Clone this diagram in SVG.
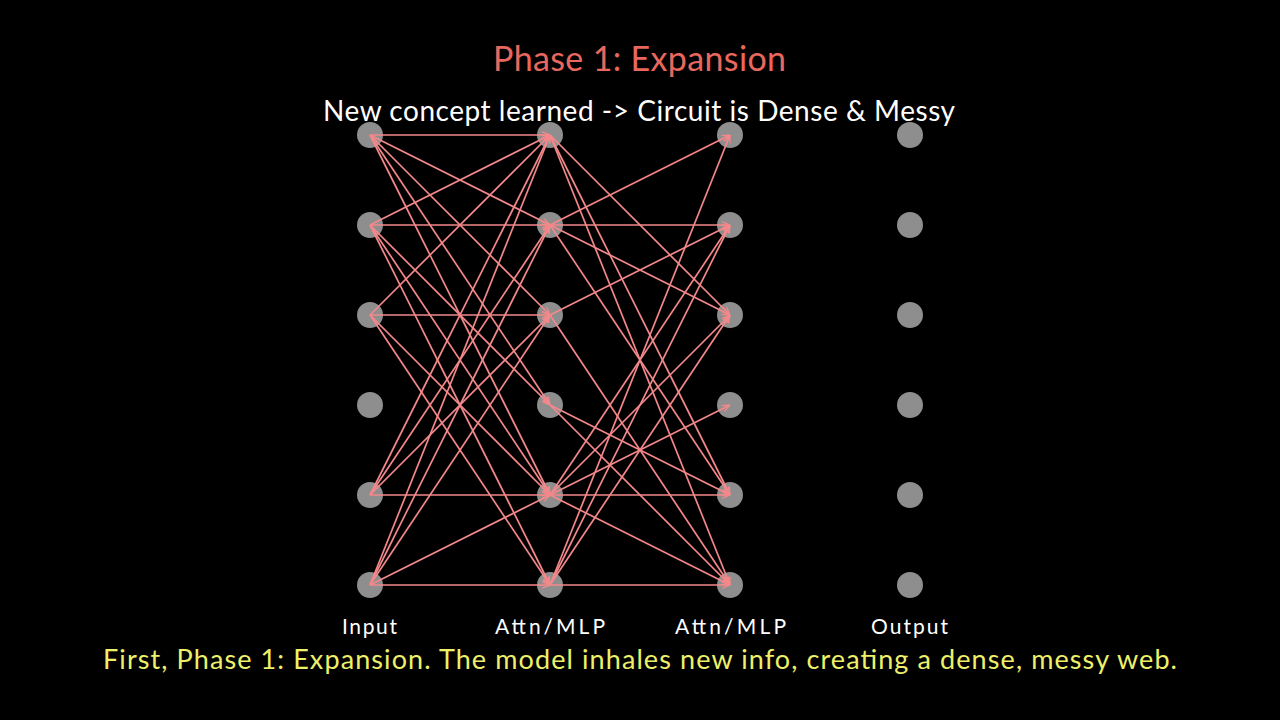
<svg xmlns="http://www.w3.org/2000/svg" width="1280" height="720" viewBox="0 0 1280 720">
<defs>
<marker id="ah" viewBox="0 0 10 10" refX="10" refY="5" markerWidth="8" markerHeight="8" orient="auto" markerUnits="userSpaceOnUse">
<path d="M0,1 L10,5 L0,9" fill="none" stroke="#f4888a" stroke-width="1.6"/>
</marker>
<style>
.bg{fill:#000}
.node{fill:#8e8e8e}
.edge{stroke:#f4888a;stroke-width:1.7;fill:none;marker-end:url(#ah)}
.t{font-family:"Lato","Liberation Sans",sans-serif}
.title{fill:#e8685e;font-size:34px}
.sub{fill:#ffffff;font-size:28px}
.lab{fill:#ffffff;font-size:21px}
.cap{fill:#eef06a;font-size:27px}
</style>
</defs>
<rect class="bg" x="0" y="0" width="1280" height="720"/>
<g id="input-nodes">
<circle id="in0" class="node" cx="370" cy="135" r="13"/>
<circle id="in1" class="node" cx="370" cy="225" r="13"/>
<circle id="in2" class="node" cx="370" cy="315" r="13"/>
<circle id="in3" class="node" cx="370" cy="405" r="13"/>
<circle id="in4" class="node" cx="370" cy="495" r="13"/>
<circle id="in5" class="node" cx="370" cy="585" r="13"/>
</g>
<g id="layer1-nodes">
<circle id="a0" class="node" cx="550" cy="135" r="13"/>
<circle id="a1" class="node" cx="550" cy="225" r="13"/>
<circle id="a2" class="node" cx="550" cy="315" r="13"/>
<circle id="a3" class="node" cx="550" cy="405" r="13"/>
<circle id="a4" class="node" cx="550" cy="495" r="13"/>
<circle id="a5" class="node" cx="550" cy="585" r="13"/>
</g>
<g id="layer2-nodes">
<circle id="b0" class="node" cx="730" cy="135" r="13"/>
<circle id="b1" class="node" cx="730" cy="225" r="13"/>
<circle id="b2" class="node" cx="730" cy="315" r="13"/>
<circle id="b3" class="node" cx="730" cy="405" r="13"/>
<circle id="b4" class="node" cx="730" cy="495" r="13"/>
<circle id="b5" class="node" cx="730" cy="585" r="13"/>
</g>
<g id="output-nodes">
<circle id="o0" class="node" cx="910" cy="135" r="13"/>
<circle id="o1" class="node" cx="910" cy="225" r="13"/>
<circle id="o2" class="node" cx="910" cy="315" r="13"/>
<circle id="o3" class="node" cx="910" cy="405" r="13"/>
<circle id="o4" class="node" cx="910" cy="495" r="13"/>
<circle id="o5" class="node" cx="910" cy="585" r="13"/>
</g>
<g id="connectors">
<line class="edge" x1="370" y1="135" x2="550" y2="135"/>
<line class="edge" x1="370" y1="135" x2="550" y2="225"/>
<line class="edge" x1="370" y1="135" x2="550" y2="315"/>
<line class="edge" x1="370" y1="135" x2="550" y2="405"/>
<line class="edge" x1="370" y1="135" x2="550" y2="495"/>
<line class="edge" x1="370" y1="225" x2="550" y2="135"/>
<line class="edge" x1="370" y1="225" x2="550" y2="225"/>
<line class="edge" x1="370" y1="225" x2="550" y2="405"/>
<line class="edge" x1="370" y1="225" x2="550" y2="495"/>
<line class="edge" x1="370" y1="225" x2="550" y2="585"/>
<line class="edge" x1="370" y1="315" x2="550" y2="135"/>
<line class="edge" x1="370" y1="315" x2="550" y2="315"/>
<line class="edge" x1="370" y1="315" x2="550" y2="495"/>
<line class="edge" x1="370" y1="315" x2="550" y2="585"/>
<line class="edge" x1="370" y1="495" x2="550" y2="135"/>
<line class="edge" x1="370" y1="495" x2="550" y2="225"/>
<line class="edge" x1="370" y1="495" x2="550" y2="315"/>
<line class="edge" x1="370" y1="495" x2="550" y2="495"/>
<line class="edge" x1="370" y1="585" x2="550" y2="135"/>
<line class="edge" x1="370" y1="585" x2="550" y2="225"/>
<line class="edge" x1="370" y1="585" x2="550" y2="315"/>
<line class="edge" x1="370" y1="585" x2="550" y2="495"/>
<line class="edge" x1="370" y1="585" x2="550" y2="585"/>
<line class="edge" x1="550" y1="135" x2="730" y2="315"/>
<line class="edge" x1="550" y1="135" x2="730" y2="495"/>
<line class="edge" x1="550" y1="135" x2="730" y2="585"/>
<line class="edge" x1="550" y1="225" x2="730" y2="135"/>
<line class="edge" x1="550" y1="225" x2="730" y2="225"/>
<line class="edge" x1="550" y1="225" x2="730" y2="315"/>
<line class="edge" x1="550" y1="225" x2="730" y2="495"/>
<line class="edge" x1="550" y1="315" x2="730" y2="225"/>
<line class="edge" x1="550" y1="315" x2="730" y2="585"/>
<line class="edge" x1="550" y1="405" x2="730" y2="495"/>
<line class="edge" x1="550" y1="405" x2="730" y2="585"/>
<line class="edge" x1="550" y1="495" x2="730" y2="225"/>
<line class="edge" x1="550" y1="495" x2="730" y2="315"/>
<line class="edge" x1="550" y1="495" x2="730" y2="405"/>
<line class="edge" x1="550" y1="495" x2="730" y2="495"/>
<line class="edge" x1="550" y1="495" x2="730" y2="585"/>
<line class="edge" x1="550" y1="585" x2="730" y2="135"/>
<line class="edge" x1="550" y1="585" x2="730" y2="225"/>
<line class="edge" x1="550" y1="585" x2="730" y2="315"/>
<line class="edge" x1="550" y1="585" x2="730" y2="585"/>
</g>
<g id="texts">
<text class="t title" x="639.5" y="71" text-anchor="middle" textLength="293">Phase 1: Expansion</text>
<text class="t sub" x="639" y="121" text-anchor="middle" textLength="632">New concept learned -&gt; Circuit is Dense &amp; Messy</text>
<text class="t lab" x="369.5" y="634" text-anchor="middle" textLength="55">Input</text>
<text class="t lab" x="550" y="634" text-anchor="middle" textLength="110">Attn/MLP</text>
<text class="t lab" x="730.5" y="634" text-anchor="middle" textLength="111">Attn/MLP</text>
<text class="t lab" x="909.5" y="634" text-anchor="middle" textLength="77">Output</text>
<text class="t cap" x="640" y="669" text-anchor="middle" textLength="1074">First, Phase 1: Expansion. The model inhales new info, creating a dense, messy web.</text>
</g>
</svg>
